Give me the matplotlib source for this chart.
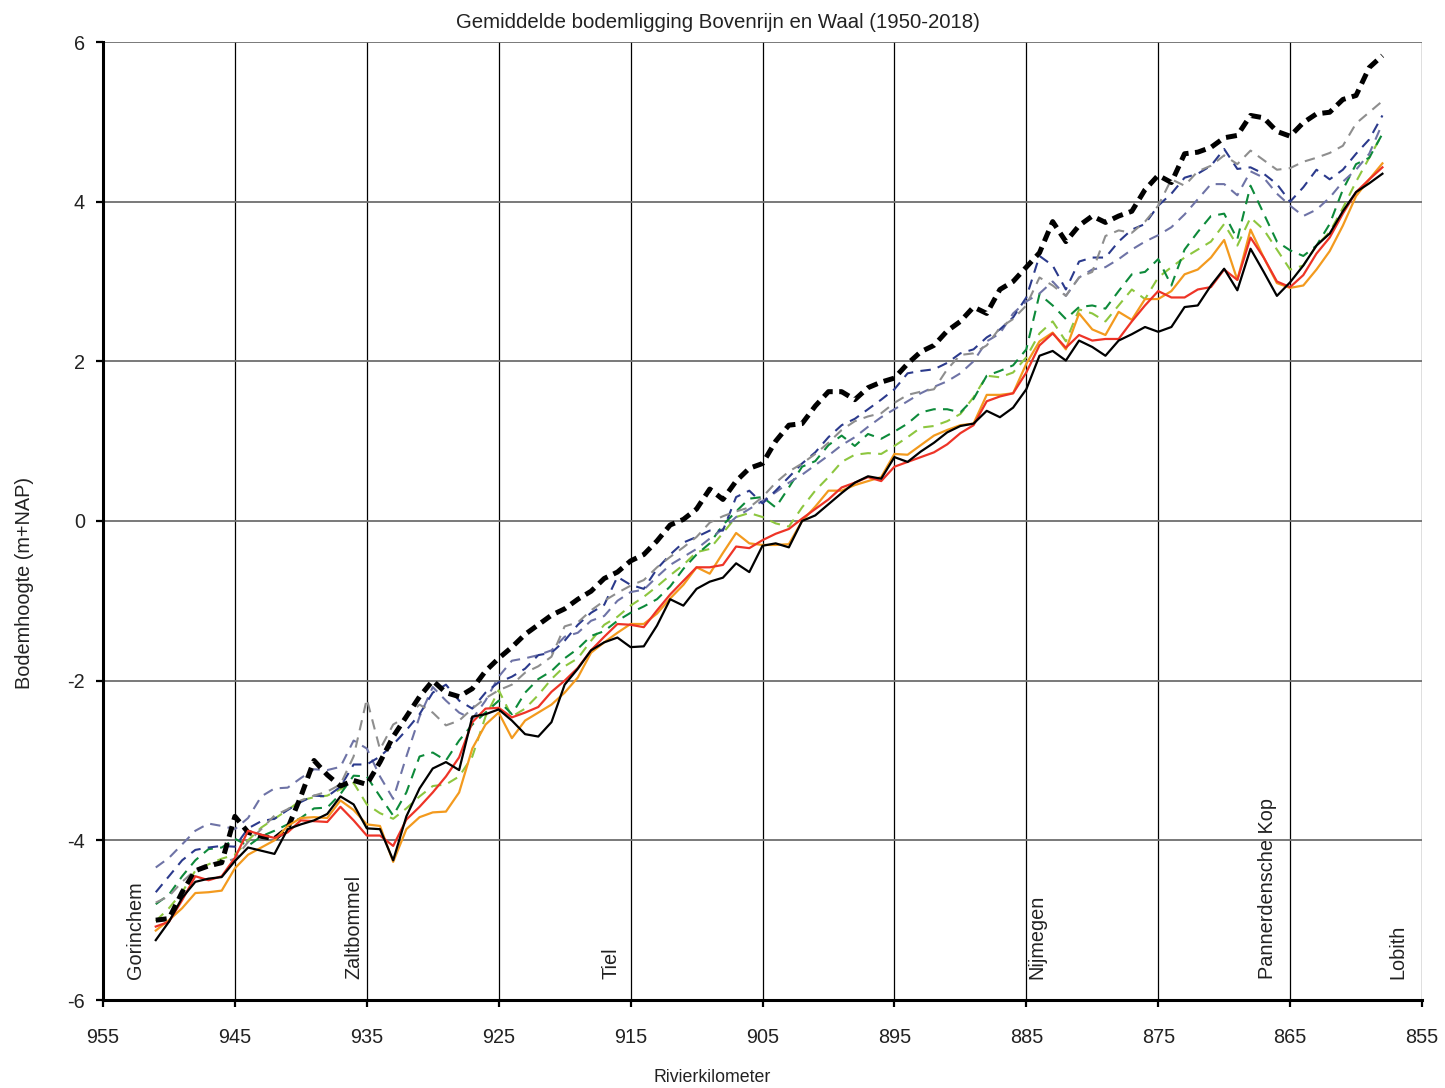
import numpy as np
import matplotlib
matplotlib.use("Agg")
import matplotlib.pyplot as plt

plt.rcParams['font.family'] = ['Liberation Sans', 'DejaVu Sans']
plt.rcParams['axes.unicode_minus'] = False
TXT = '#222222'

# River kilometre positions (951 -> 858)
km = list(range(951, 857, -1))

black_dash = [-5.00, -4.98, -4.65, -4.38, -4.32, -4.28, -3.70, -3.90, -3.95, -3.98,
              -3.85, -3.45, -3.00, -3.18, -3.32, -3.25, -3.30, -3.02, -2.70, -2.45,
              -2.20, -2.00, -2.15, -2.20, -2.10, -1.88, -1.72, -1.58, -1.42, -1.30,
              -1.18, -1.10, -0.98, -0.88, -0.72, -0.64, -0.50, -0.42, -0.25, -0.05,
              0.02, 0.15, 0.40, 0.27, 0.50, 0.66, 0.72, 1.00, 1.20, 1.22,
              1.44, 1.62, 1.62, 1.52, 1.67, 1.74, 1.79, 1.97, 2.12, 2.20,
              2.38, 2.50, 2.68, 2.60, 2.90, 3.00, 3.18, 3.36, 3.75, 3.50,
              3.70, 3.82, 3.74, 3.82, 3.88, 4.15, 4.33, 4.24, 4.60, 4.62,
              4.68, 4.80, 4.83, 5.08, 5.05, 4.88, 4.82, 4.99, 5.10, 5.12,
              5.28, 5.33, 5.68, 5.83]

gray = [-4.78, -4.70, -4.52, -4.37, -4.29, -4.28, -4.23, -4.02, -3.86, -3.69,
        -3.61, -3.50, -3.44, -3.39, -3.30, -2.95, -2.23, -2.86, -2.55, -2.45,
        -2.30, -2.40, -2.56, -2.50, -2.35, -2.22, -2.12, -2.05, -1.90, -1.82,
        -1.70, -1.32, -1.27, -1.12, -1.00, -0.90, -0.81, -0.74, -0.58, -0.45,
        -0.33, -0.20, -0.02, 0.06, 0.12, 0.17, 0.30, 0.48, 0.62, 0.72,
        0.84, 0.98, 1.14, 1.25, 1.31, 1.35, 1.48, 1.58, 1.62, 1.65,
        1.90, 2.08, 2.10, 2.20, 2.42, 2.53, 2.70, 3.05, 2.95, 2.82,
        3.05, 3.12, 3.57, 3.64, 3.61, 3.75, 3.95, 4.28, 4.20, 4.38,
        4.45, 4.58, 4.47, 4.64, 4.52, 4.40, 4.42, 4.50, 4.55, 4.61,
        4.70, 4.98, 5.12, 5.26]

navy = [-4.65, -4.45, -4.25, -4.12, -4.09, -4.07, -4.08, -3.85, -3.76, -3.73,
        -3.62, -3.52, -3.44, -3.45, -3.33, -3.05, -3.05, -2.95, -2.80, -2.62,
        -2.42, -2.15, -2.05, -2.25, -2.35, -2.15, -2.02, -1.95, -1.85, -1.68,
        -1.65, -1.50, -1.30, -1.15, -1.05, -0.70, -0.80, -0.85, -0.60, -0.42,
        -0.27, -0.20, -0.12, -0.12, 0.30, 0.38, 0.22, 0.38, 0.55, 0.72,
        0.86, 1.05, 1.20, 1.28, 1.40, 1.52, 1.65, 1.85, 1.88, 1.90,
        1.98, 2.10, 2.15, 2.30, 2.40, 2.55, 2.80, 3.32, 3.20, 2.90,
        3.25, 3.30, 3.30, 3.50, 3.65, 3.72, 3.95, 4.10, 4.30, 4.35,
        4.45, 4.66, 4.41, 4.43, 4.35, 4.22, 4.00, 4.18, 4.40, 4.28,
        4.40, 4.60, 4.78, 5.08]

slate = [-4.34, -4.22, -4.05, -3.88, -3.79, -3.82, -3.86, -3.72, -3.45, -3.35,
         -3.34, -3.22, -3.11, -3.12, -3.08, -2.75, -2.85, -3.20, -3.48, -2.95,
         -2.45, -2.08, -2.25, -2.40, -2.48, -2.25, -1.95, -1.75, -1.72, -1.68,
         -1.62, -1.45, -1.40, -1.25, -1.19, -1.00, -0.89, -0.86, -0.70, -0.55,
         -0.45, -0.35, -0.22, -0.10, 0.05, 0.15, 0.25, 0.36, 0.48, 0.58,
         0.70, 0.82, 0.95, 1.05, 1.18, 1.30, 1.40, 1.50, 1.60, 1.68,
         1.75, 1.85, 2.00, 2.25, 2.35, 2.60, 2.75, 2.85, 3.00, 2.82,
         3.05, 3.15, 3.18, 3.28, 3.40, 3.50, 3.58, 3.68, 3.84, 4.03,
         4.22, 4.22, 4.08, 4.38, 4.30, 4.10, 3.95, 3.82, 3.90, 4.05,
         4.25, 4.40, 4.60, 4.98]

green = [-4.80, -4.68, -4.45, -4.25, -4.11, -4.09, -3.98, -4.07, -3.95, -3.88,
         -3.80, -3.72, -3.60, -3.59, -3.42, -3.19, -3.20, -3.45, -3.69, -3.40,
         -2.95, -2.90, -3.00, -2.75, -2.55, -2.40, -2.25, -2.42, -2.15, -1.98,
         -1.88, -1.72, -1.60, -1.44, -1.38, -1.25, -1.15, -1.07, -0.98, -0.82,
         -0.60, -0.42, -0.28, -0.05, 0.12, 0.28, 0.30, 0.17, 0.42, 0.68,
         0.75, 0.95, 1.07, 0.94, 1.09, 1.03, 1.12, 1.22, 1.36, 1.40,
         1.40, 1.36, 1.53, 1.82, 1.88, 1.95, 2.15, 2.84, 2.70, 2.53,
         2.68, 2.70, 2.66, 2.88, 3.09, 3.12, 3.28, 2.95, 3.40, 3.62,
         3.82, 3.85, 3.53, 4.20, 3.85, 3.50, 3.39, 3.32, 3.45, 3.72,
         4.15, 4.47, 4.55, 4.85]

ygreen = [-5.01, -4.85, -4.65, -4.38, -4.30, -4.23, -4.18, -4.00, -3.84, -3.73,
          -3.62, -3.50, -3.46, -3.44, -3.36, -3.28, -3.55, -3.66, -3.73, -3.60,
          -3.45, -3.32, -3.30, -3.20, -2.95, -2.45, -2.12, -2.45, -2.35, -2.18,
          -1.98, -1.82, -1.72, -1.50, -1.30, -1.20, -1.06, -0.95, -0.82, -0.68,
          -0.55, -0.39, -0.35, -0.15, 0.05, 0.10, 0.05, -0.03, -0.07, 0.17,
          0.38, 0.55, 0.74, 0.83, 0.85, 0.84, 0.94, 1.05, 1.17, 1.19,
          1.25, 1.34, 1.55, 1.82, 1.80, 1.86, 2.05, 2.35, 2.50, 2.25,
          2.65, 2.60, 2.50, 2.70, 2.90, 2.78, 3.05, 3.18, 3.30, 3.40,
          3.50, 3.72, 3.45, 3.80, 3.65, 3.40, 3.15, 3.20, 3.45, 3.62,
          3.92, 4.25, 4.55, 4.85]

orange = [-5.13, -5.00, -4.85, -4.66, -4.65, -4.63, -4.35, -4.18, -4.09, -4.00,
          -3.82, -3.72, -3.71, -3.72, -3.50, -3.62, -3.80, -3.82, -4.27, -3.86,
          -3.71, -3.65, -3.64, -3.40, -2.85, -2.55, -2.40, -2.72, -2.50, -2.40,
          -2.30, -2.15, -1.96, -1.65, -1.52, -1.40, -1.29, -1.29, -1.16, -0.97,
          -0.80, -0.58, -0.66, -0.40, -0.15, -0.28, -0.30, -0.30, -0.29, 0.00,
          0.18, 0.38, 0.38, 0.45, 0.50, 0.55, 0.84, 0.83, 0.95, 1.07,
          1.14, 1.20, 1.22, 1.58, 1.58, 1.60, 1.97, 2.25, 2.36, 2.15,
          2.60, 2.40, 2.33, 2.62, 2.52, 2.78, 2.78, 2.88, 3.09, 3.15,
          3.30, 3.52, 3.02, 3.65, 3.30, 2.98, 2.92, 2.95, 3.15, 3.38,
          3.70, 4.07, 4.28, 4.48]

red = [-5.08, -5.02, -4.75, -4.45, -4.50, -4.45, -4.22, -3.88, -3.93, -3.97,
       -3.90, -3.75, -3.76, -3.77, -3.58, -3.75, -3.94, -3.94, -4.07, -3.74,
       -3.58, -3.40, -3.20, -2.96, -2.52, -2.35, -2.34, -2.46, -2.40, -2.33,
       -2.14, -2.00, -1.84, -1.62, -1.45, -1.29, -1.30, -1.33, -1.12, -0.92,
       -0.75, -0.58, -0.58, -0.55, -0.32, -0.34, -0.24, -0.16, -0.10, 0.03,
       0.15, 0.27, 0.42, 0.48, 0.55, 0.50, 0.68, 0.74, 0.80, 0.86,
       0.96, 1.10, 1.20, 1.50, 1.56, 1.60, 1.86, 2.20, 2.35, 2.17,
       2.33, 2.26, 2.28, 2.28, 2.50, 2.70, 2.88, 2.80, 2.80, 2.90,
       2.93, 3.15, 3.02, 3.55, 3.30, 3.00, 2.93, 3.08, 3.35, 3.55,
       3.85, 4.12, 4.28, 4.43]

black = [-5.25, -5.02, -4.72, -4.52, -4.48, -4.46, -4.26, -4.09, -4.13, -4.17,
         -3.86, -3.80, -3.75, -3.67, -3.45, -3.55, -3.85, -3.86, -4.25, -3.70,
         -3.35, -3.10, -3.02, -3.12, -2.45, -2.42, -2.36, -2.50, -2.67, -2.70,
         -2.52, -2.05, -1.85, -1.62, -1.52, -1.46, -1.58, -1.57, -1.31, -0.98,
         -1.06, -0.85, -0.76, -0.71, -0.53, -0.64, -0.31, -0.28, -0.33, 0.00,
         0.07, 0.21, 0.35, 0.48, 0.56, 0.53, 0.80, 0.74, 0.87, 0.98,
         1.11, 1.19, 1.22, 1.38, 1.30, 1.42, 1.65, 2.07, 2.13, 2.01,
         2.26, 2.18, 2.07, 2.26, 2.34, 2.43, 2.37, 2.43, 2.68, 2.70,
         2.95, 3.16, 2.89, 3.41, 3.12, 2.82, 2.99, 3.20, 3.45, 3.60,
         3.88, 4.12, 4.23, 4.35]

places = ["Gorinchem", "Zaltbommel", "Tiel", "Nijmegen", "Pannerdensche Kop", "Lobith"]
place_km = [952.5, 936.0, 916.5, 884.2, 866.7, 856.8]

xticks = [955, 945, 935, 925, 915, 905, 895, 885, 875, 865, 855]
yticks = [-6, -4, -2, 0, 2, 4, 6]

fig = plt.figure(figsize=(14.45, 10.88), dpi=100)
ax = fig.add_axes([103/1445, 1 - 1000/1088, (1422-103)/1445, (1000-42)/1088])

ax.set_xlim(955, 855)
ax.set_ylim(-6, 6)

# gridlines
for x in xticks:
    ax.axvline(x, color='black', lw=0.9, zorder=0.5)
for y in yticks:
    ax.axhline(y, color='#6e6e6e', lw=1.3, zorder=0.5)

dash_kw = dict(lw=1.5)
ax.plot(km, ygreen, color='#8dc63f', ls=(0, (5, 3.5)), **dash_kw)
ax.plot(km, green, color='#0d8a3a', ls=(0, (5, 3.5)), **dash_kw)
ax.plot(km, slate, color='#6e73a6', ls=(0, (5, 3.5)), **dash_kw)
ax.plot(km, navy, color='#2b3a8c', ls=(0, (5, 3.5)), **dash_kw)
ax.plot(km, gray, color='#8e8e8e', ls=(0, (5, 3.5)), **dash_kw)
ax.plot(km, black_dash, color='black', lw=3.6, ls=(0, (2.2, 1.3)))
ax.plot(km, orange, color='#f39a1e', lw=1.6)
ax.plot(km, red, color='#ee3427', lw=1.6)
ax.plot(km, black, color='black', lw=1.6)

for name, k in zip(places, place_km):
    ax.text(k, -5.74, name, rotation=90, ha='center', va='bottom', fontsize=14.3, color=TXT)

ax.set_xticks(xticks)
ax.set_xticklabels([str(x) for x in xticks])
ax.set_yticks(yticks)
ax.set_yticklabels([str(y) for y in yticks])
ax.tick_params(axis='both', direction='out', length=5, width=1.6, labelsize=14.3,
               colors='black', labelcolor=TXT)
ax.tick_params(axis='x', pad=15)
ax.tick_params(axis='y', pad=8)

for s in ['top', 'right']:
    ax.spines[s].set_visible(False)
for s in ['left', 'bottom']:
    ax.spines[s].set_linewidth(2.2)
    ax.spines[s].set_zorder(5)

fig.text(0.4965, 1 - 22/1088, "Gemiddelde bodemligging Bovenrijn en Waal (1950-2018)",
         ha='center', va='center', fontsize=14.7, color=TXT)
fig.text(0.493, 1 - 1078/1088, "Rivierkilometer", ha='center', va='center',
         fontsize=12.8, color=TXT)
fig.text(25/1445, 1 - 583/1088, "Bodemhoogte (m+NAP)", ha='center', va='center',
         rotation=90, fontsize=14.3, color=TXT)

fig.savefig("out.png", dpi=100)
